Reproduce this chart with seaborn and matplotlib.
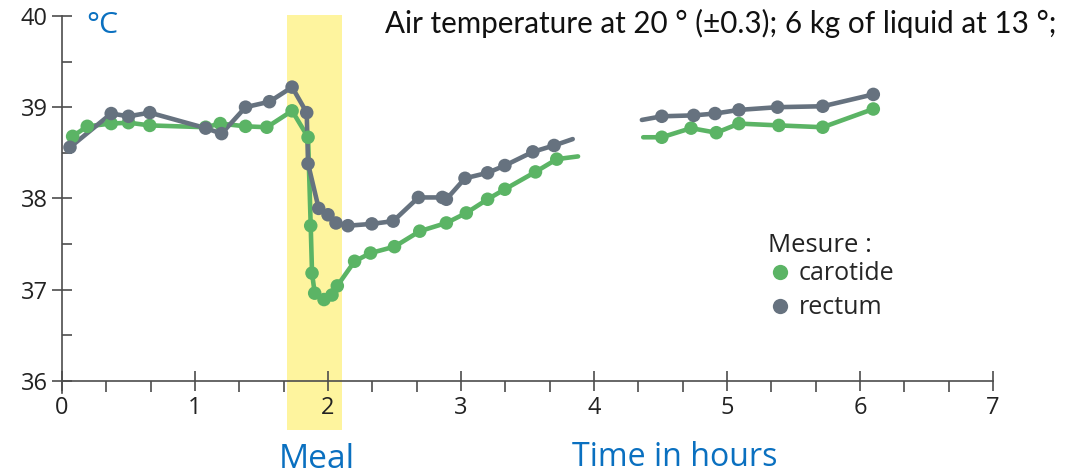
import numpy as np
import pandas as pd
import matplotlib
matplotlib.use("Agg")
import matplotlib.pyplot as plt
from matplotlib.ticker import MultipleLocator
import seaborn as sns

# ---------------- data ----------------
# carotide (green); NaN separates the two measured stretches
carotide_time = [0.08, 0.19, 0.37, 0.50, 0.66, 1.08, 1.19, 1.38, 1.54, 1.73,
                 1.85, 1.87, 1.88, 1.90, 1.97, 2.03, 2.07, 2.20, 2.32, 2.50,
                 2.69, 2.89, 3.04, 3.20, 3.33, 3.56, 3.72, 3.88,
                 np.nan,
                 4.37, 4.51, 4.73, 4.92, 5.09, 5.39, 5.72, 6.10]
carotide_temp = [38.68, 38.79, 38.82, 38.83, 38.80, 38.78, 38.82, 38.79, 38.78, 38.96,
                 38.67, 37.70, 37.18, 36.96, 36.89, 36.94, 37.04, 37.31, 37.40, 37.47,
                 37.64, 37.73, 37.84, 37.99, 38.10, 38.29, 38.43, 38.46,
                 np.nan,
                 38.67, 38.67, 38.77, 38.72, 38.82, 38.80, 38.78, 38.98]
carotide_marked = [1] * 27 + [0, 0, 0] + [1] * 7

# rectum (grey)
rectum_time = [0.06, 0.37, 0.50, 0.66, 1.08, 1.20, 1.38, 1.56, 1.73, 1.84,
               1.85, 1.93, 2.00, 2.06, 2.15, 2.33, 2.49, 2.68, 2.86, 2.89,
               3.03, 3.20, 3.33, 3.54, 3.70, 3.84,
               np.nan,
               4.36, 4.51, 4.75, 4.91, 5.09, 5.38, 5.72, 6.10]
rectum_temp = [38.56, 38.93, 38.90, 38.94, 38.77, 38.71, 39.00, 39.06, 39.22, 38.94,
               38.38, 37.89, 37.82, 37.73, 37.70, 37.72, 37.75, 38.01, 38.01, 37.99,
               38.22, 38.28, 38.36, 38.51, 38.58, 38.65,
               np.nan,
               38.86, 38.90, 38.91, 38.93, 38.97, 39.00, 39.01, 39.14]
rectum_marked = [1] * 25 + [0, 0, 0] + [1] * 7

meal_start, meal_end = 1.69, 2.105
x_ticks = [0, 1, 2, 3, 4, 5, 6, 7]
y_ticks = [36, 37, 38, 39, 40]

title_text = "Air temperature at 20 ° (±0.3); 6 kg of liquid at 13 °;"
unit_text = "°C"
xlabel_text = "Time in hours"
meal_text = "Meal"
legend_title = "Mesure :"

# ---------------- build tables ----------------
def build(name, t, v, m):
    seg = np.cumsum(np.isnan(np.array(t, dtype=float)))
    return pd.DataFrame({"time": t, "temp": v, "mesure": name,
                         "segment": [f"{name}{s}" for s in seg], "marked": m})

df = pd.concat([build("carotide", carotide_time, carotide_temp, carotide_marked),
                build("rectum", rectum_time, rectum_temp, rectum_marked)],
               ignore_index=True)
df_line = df.dropna()
df_pts = df_line[df_line["marked"] == 1]

GREEN = "#5BB465"
GREY = "#66727F"
BLUE = "#0A70C0"
YELLOW = "#FEF49E"
AXC = "#4d4d4d"
palette = {"carotide": GREEN, "rectum": GREY}

sns.set_style("white")
plt.rcParams["font.family"] = ["Open Sans", "DejaVu Sans"]

W, H = 1072, 475
fig = plt.figure(figsize=(W / 100, H / 100), dpi=100)
ax = fig.add_axes([62 / W, 1 - 380.7 / H, 931 / W, (380.7 - 16) / H])

ax.set_xlim(0, 7)
ax.set_ylim(36, 40)

# meal band (extends below the axis)
ax.axvspan(meal_start, meal_end, ymin=(35.46 - 36) / 4, ymax=(40.01 - 36) / 4,
           color=YELLOW, lw=0, clip_on=False, zorder=0)

sns.lineplot(data=df_line, x="time", y="temp", hue="mesure", units="segment",
             estimator=None, sort=False, palette=palette,
             hue_order=["carotide", "rectum"], linewidth=3.3, legend=False,
             ax=ax, zorder=2)
sns.scatterplot(data=df_pts, x="time", y="temp", hue="mesure", palette=palette,
                hue_order=["carotide", "rectum"], s=95, edgecolor="none",
                linewidth=0, ax=ax, zorder=3)

# axes styling
for s in ["top", "right"]:
    ax.spines[s].set_visible(False)
for s in ["left", "bottom"]:
    ax.spines[s].set_color(AXC)
    ax.spines[s].set_linewidth(1.2)
ax.spines["left"].set_bounds(35.87, 40)
ax.set_xticks(x_ticks)
ax.set_yticks(y_ticks)
ax.xaxis.set_minor_locator(MultipleLocator(1 / 3))
ax.yaxis.set_minor_locator(MultipleLocator(0.5))
ax.tick_params(which="both", bottom=True, left=True, top=False, right=False)
ax.tick_params(axis="x", which="major", direction="inout", length=14.5, width=1.2,
               color=AXC, labelsize=17, pad=4, labelcolor="#222222")
ax.tick_params(axis="x", which="minor", direction="out", length=8, width=1.2, color=AXC)
ax.tick_params(axis="y", which="major", direction="inout", length=14.5, width=1.2,
               color=AXC, labelsize=17, pad=3, labelcolor="#222222")
ax.tick_params(axis="y", which="minor", direction="in", length=7, width=1.2, color=AXC)
ax.set_xlabel("")
ax.set_ylabel("")

# legend (title drawn separately as text)
handles, labels = ax.get_legend_handles_labels()
leg = ax.legend(handles, labels, loc="upper left",
                bbox_to_anchor=(767 / W, 1 - 261.5 / H), bbox_transform=fig.transFigure,
                frameon=False, borderpad=0, fontsize=18,
                handlelength=1.0, handletextpad=0.28,
                labelspacing=0.36, borderaxespad=0)
for h in leg.legend_handles:
    h.set_markersize(11)
fig.text(768 / W, 1 - 252 / H, legend_title, fontsize=18.5, color="#222222",
         ha="left", va="baseline")

# texts, fitted to the widths seen in the reference
renderer = fig.canvas.get_renderer()

def fit_text(x0, x1, baseline, s, color, family, size=20):
    t = fig.text(x0 / W, 1 - baseline / H, s, fontsize=size, family=family,
                 color=color, ha="left", va="baseline")
    w = t.get_window_extent(renderer).width
    t.set_fontsize(size * (x1 - x0) / w)
    return t

fit_text(385, 1057, 33, title_text, "#111111", ["Lato", "DejaVu Sans"])
fit_text(86, 118, 33, unit_text, BLUE, ["Open Sans", "DejaVu Sans"], 22)
fit_text(572, 777, 466, xlabel_text, BLUE, ["Open Sans", "DejaVu Sans"], 22)
fit_text(279, 355, 468, meal_text, BLUE, ["Open Sans", "DejaVu Sans"], 22)

fig.savefig("out.png", dpi=100)
